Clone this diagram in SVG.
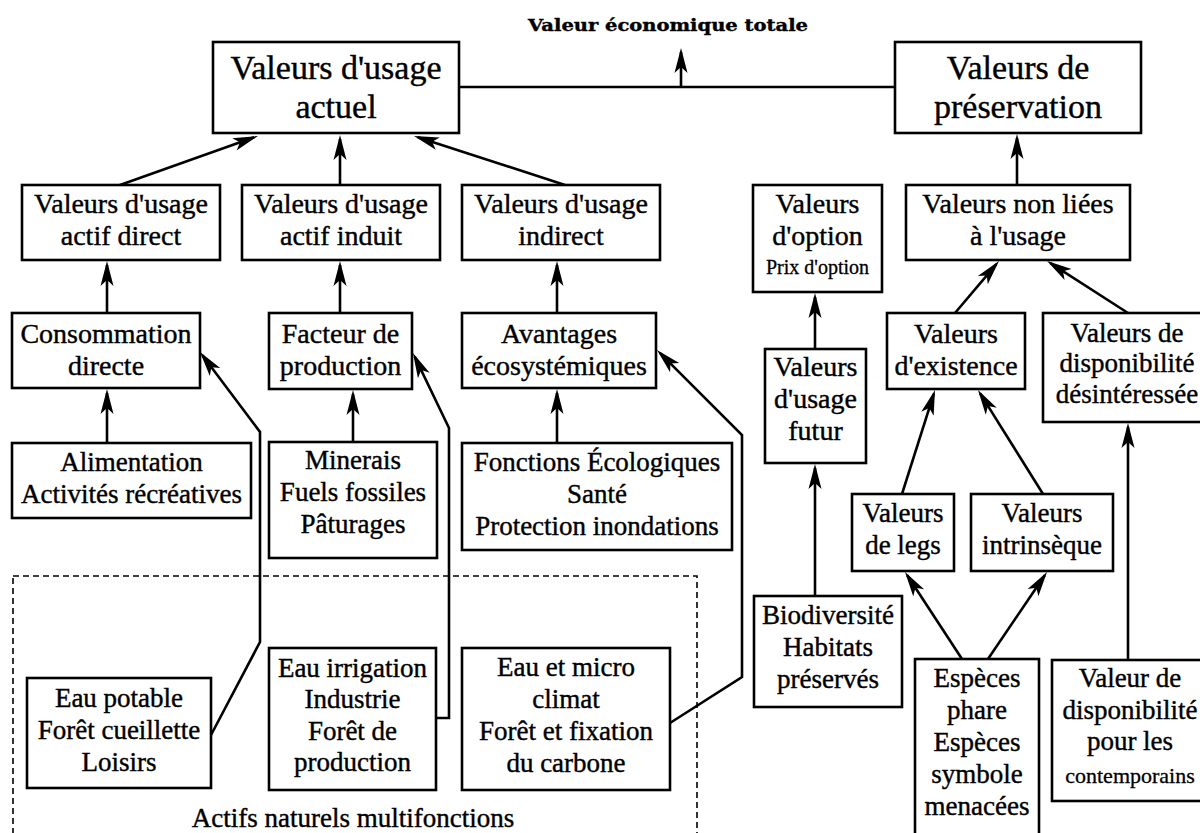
<svg xmlns="http://www.w3.org/2000/svg" width="1200" height="833" viewBox="0 0 1200 833">
<defs>
<marker id="ah" viewBox="-22 -7 27 14" refX="0" refY="0" markerWidth="27" markerHeight="14" markerUnits="userSpaceOnUse" orient="auto">
<path d="M4,0 L-21,-6.5 L-15,0 L-21,6.5 Z" fill="#000"/>
</marker>
<style>
.box{fill:#fff;stroke:#000;stroke-width:2.6}
.dash{fill:none;stroke:#000;stroke-width:1.6;stroke-dasharray:6 4}
.t{font-family:"Liberation Serif","Times New Roman",serif;fill:#000;stroke:#000;stroke-width:0.4;text-anchor:middle;font-size:28px}
.big{font-size:34px}
.m{font-size:27px}
.s{font-size:20px;stroke-width:0.3}
.xs{font-size:22px;stroke-width:0.3}
.title{font-family:"DejaVu Serif","Liberation Serif",serif;font-weight:bold;font-size:17px;text-anchor:middle;fill:#000;stroke:#000;stroke-width:0.4}
.c{fill:none;stroke:#000;stroke-width:2.6;marker-end:url(#ah)}
.l{fill:none;stroke:#000;stroke-width:2.6}
</style>
</defs>
<rect width="1200" height="833" fill="#fff"/>

<g id="frame-actifs">
<rect class="dash" x="13" y="576" width="684" height="270"/>
<text class="t m" x="353" y="827">Actifs naturels multifonctions</text>
</g>

<g id="connectors">
<path class="l" d="M459,87 L895,87"/>
<path class="c" d="M681,87 L681,52"/>
<path class="c" d="M120,185 L254.2,137.3"/>
<path class="c" d="M340,185 L340,139"/>
<path class="c" d="M565,185 L417.8,137.2"/>
<path class="c" d="M1017,185 L1017,138"/>
<path class="c" d="M107,313 L107,265"/>
<path class="c" d="M340,313 L340,265"/>
<path class="c" d="M557,314 L557,265"/>
<path class="c" d="M815,349 L815,297"/>
<path class="c" d="M955,313 L996.4,264.1"/>
<path class="c" d="M1128,313 L1050.4,263.2"/>
<path class="c" d="M107,443 L107,393"/>
<path class="c" d="M353,442 L353,394"/>
<path class="c" d="M557,443 L557,393"/>
<path class="c" d="M211,735 L260,642 L260,432 L202.4,355.2"/>
<path class="c" d="M436,718 L449,718 L449,428 L414.7,356.6"/>
<path class="c" d="M670,723 L742,677 L742,435 L659.8,352.8"/>
<path class="c" d="M815,596 L815,468"/>
<path class="c" d="M902,494 L933.8,393.8"/>
<path class="c" d="M1043,494 L980.1,393.4"/>
<path class="c" d="M962,659 L907.2,575.3"/>
<path class="c" d="M988,659 L1044.8,575.3"/>
<path class="c" d="M1128,660 L1128,427"/>
</g>

<g id="title">
<text class="title" x="668" y="31" textLength="280" lengthAdjust="spacingAndGlyphs">Valeur économique totale</text>
</g>

<g id="usage-actuel">
<rect class="box" x="213" y="42" width="246" height="91"/>
<text class="t big" x="336" y="79">Valeurs d'usage</text>
<text class="t big" x="336" y="118">actuel</text>
</g>
<g id="preservation">
<rect class="box" x="895" y="42" width="246" height="91"/>
<text class="t big" x="1018" y="79">Valeurs de</text>
<text class="t big" x="1018" y="118">préservation</text>
</g>

<g id="actif-direct">
<rect class="box" x="22" y="185" width="198" height="75"/>
<text class="t" x="121" y="213">Valeurs d'usage</text>
<text class="t" x="121" y="245">actif direct</text>
</g>
<g id="actif-induit">
<rect class="box" x="242" y="185" width="198" height="75"/>
<text class="t" x="341" y="213">Valeurs d'usage</text>
<text class="t" x="341" y="245">actif induit</text>
</g>
<g id="usage-indirect">
<rect class="box" x="462" y="185" width="198" height="75"/>
<text class="t" x="561" y="213">Valeurs d'usage</text>
<text class="t" x="561" y="245">indirect</text>
</g>
<g id="option">
<rect class="box" x="753" y="185" width="129" height="107"/>
<text class="t" x="817.5" y="213">Valeurs</text>
<text class="t" x="817.5" y="245">d'option</text>
<text class="t s" x="817.5" y="274">Prix d'option</text>
</g>
<g id="non-liees">
<rect class="box" x="906" y="185" width="224" height="75"/>
<text class="t" x="1018" y="213">Valeurs non liées</text>
<text class="t" x="1018" y="245">à l'usage</text>
</g>

<g id="consommation">
<rect class="box" x="12" y="313" width="188" height="75"/>
<text class="t" x="106" y="343">Consommation</text>
<text class="t" x="106" y="375">directe</text>
</g>
<g id="facteur">
<rect class="box" x="269" y="313" width="143" height="76"/>
<text class="t" x="340.5" y="343">Facteur de</text>
<text class="t" x="340.5" y="375">production</text>
</g>
<g id="avantages">
<rect class="box" x="462" y="313" width="194" height="75"/>
<text class="t" x="559" y="343">Avantages</text>
<text class="t" x="559" y="375">écosystémiques</text>
</g>
<g id="usage-futur">
<rect class="box" x="765" y="349" width="101" height="114"/>
<text class="t" x="815.5" y="376">Valeurs</text>
<text class="t" x="815.5" y="408">d'usage</text>
<text class="t" x="815.5" y="440">futur</text>
</g>
<g id="existence">
<rect class="box" x="887" y="313" width="138" height="76"/>
<text class="t" x="956" y="343">Valeurs</text>
<text class="t" x="956" y="375">d'existence</text>
</g>
<g id="disponibilite">
<rect class="box" x="1043" y="313" width="170" height="109"/>
<text class="t m" x="1127" y="342">Valeurs de</text>
<text class="t m" x="1127" y="372">disponibilité</text>
<text class="t m" x="1127" y="403">désintéressée</text>
</g>

<g id="alimentation">
<rect class="box" x="12" y="443" width="239" height="75"/>
<text class="t m" x="131.5" y="471">Alimentation</text>
<text class="t m" x="131.5" y="503">Activités récréatives</text>
</g>
<g id="minerais">
<rect class="box" x="269" y="442" width="168" height="116"/>
<text class="t m" x="353" y="469">Minerais</text>
<text class="t m" x="353" y="501">Fuels fossiles</text>
<text class="t m" x="353" y="533">Pâturages</text>
</g>
<g id="fonctions">
<rect class="box" x="462" y="443" width="270" height="107"/>
<text class="t m" x="597" y="471">Fonctions Écologiques</text>
<text class="t m" x="597" y="503">Santé</text>
<text class="t m" x="597" y="535">Protection inondations</text>
</g>

<g id="eau-potable">
<rect class="box" x="27" y="678" width="184" height="110"/>
<text class="t m" x="119" y="707">Eau potable</text>
<text class="t m" x="119" y="739">Forêt cueillette</text>
<text class="t m" x="119" y="771">Loisirs</text>
</g>
<g id="eau-irrigation">
<rect class="box" x="269" y="648" width="167" height="142"/>
<text class="t m" x="352.5" y="677">Eau irrigation</text>
<text class="t m" x="352.5" y="708">Industrie</text>
<text class="t m" x="352.5" y="740">Forêt de</text>
<text class="t m" x="352.5" y="771">production</text>
</g>
<g id="eau-micro-climat">
<rect class="box" x="462" y="648" width="208" height="142"/>
<text class="t m" x="566" y="676">Eau et micro</text>
<text class="t m" x="566" y="708">climat</text>
<text class="t m" x="566" y="740">Forêt et fixation</text>
<text class="t m" x="566" y="772">du carbone</text>
</g>

<g id="biodiversite">
<rect class="box" x="754" y="596" width="148" height="111"/>
<text class="t m" x="828" y="624">Biodiversité</text>
<text class="t m" x="828" y="656">Habitats</text>
<text class="t m" x="828" y="688">préservés</text>
</g>
<g id="legs">
<rect class="box" x="852" y="494" width="102" height="77"/>
<text class="t m" x="903" y="522">Valeurs</text>
<text class="t m" x="903" y="554">de legs</text>
</g>
<g id="intrinseque">
<rect class="box" x="971" y="494" width="142" height="77"/>
<text class="t m" x="1042" y="522">Valeurs</text>
<text class="t m" x="1042" y="554">intrinsèque</text>
</g>
<g id="especes">
<rect class="box" x="915" y="659" width="124" height="185"/>
<text class="t m" x="977" y="687">Espèces</text>
<text class="t m" x="977" y="719">phare</text>
<text class="t m" x="977" y="751">Espèces</text>
<text class="t m" x="977" y="783">symbole</text>
<text class="t m" x="977" y="815">menacées</text>
</g>
<g id="contemporains">
<rect class="box" x="1052" y="660" width="160" height="141"/>
<text class="t m" x="1130" y="687">Valeur de</text>
<text class="t m" x="1130" y="719">disponibilité</text>
<text class="t m" x="1130" y="750">pour les</text>
<text class="t xs" x="1130" y="783">contemporains</text>
</g>
</svg>
